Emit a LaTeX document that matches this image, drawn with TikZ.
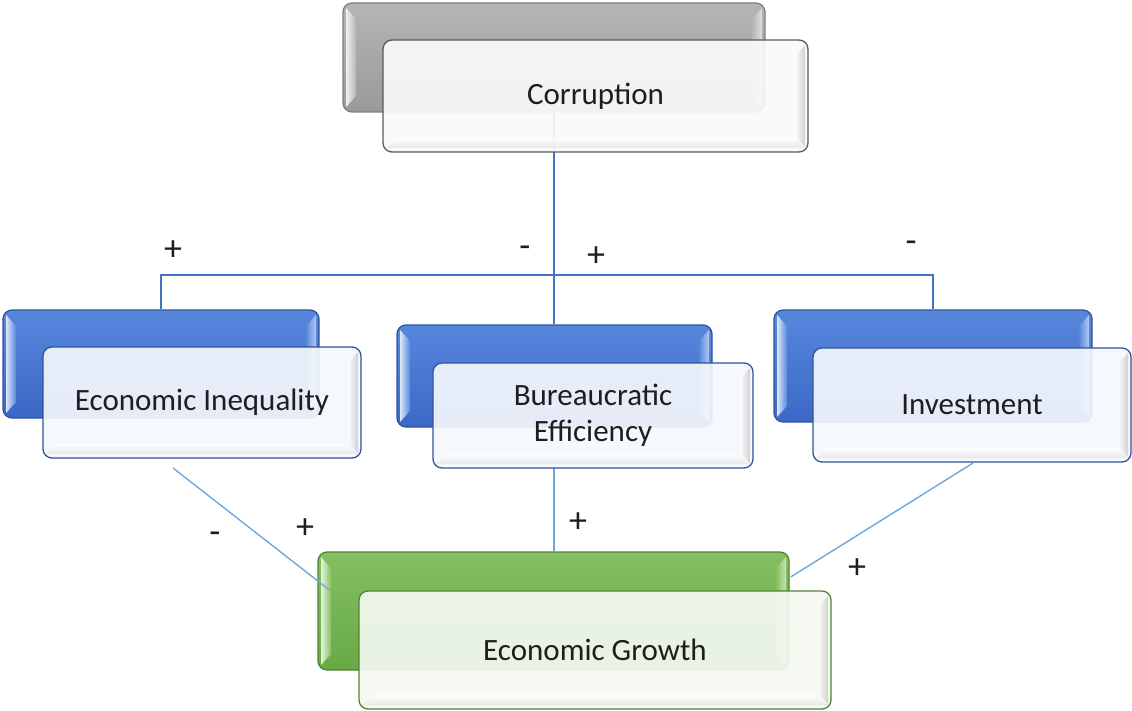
\documentclass[tikz,border=0pt]{standalone}
\usepackage{fontspec}
\setmainfont{Carlito}
\usetikzlibrary{calc}

\definecolor{grayTop}{HTML}{B5B5B5}
\definecolor{grayBot}{HTML}{9A9A9A}
\definecolor{grayLine}{HTML}{7F7F7F}
\definecolor{blueTop}{HTML}{5787DD}
\definecolor{blueBot}{HTML}{3C68C5}
\definecolor{blueLine}{HTML}{2F5597}
\definecolor{greenTop}{HTML}{84C060}
\definecolor{greenBot}{HTML}{68A946}
\definecolor{greenLine}{HTML}{548235}
\definecolor{grayFace}{HTML}{FAFAFA}
\definecolor{blueFace}{HTML}{F4F7FC}
\definecolor{greenFace}{HTML}{F4F9F1}
\definecolor{frameGray}{HTML}{595959}
\definecolor{linkDark}{HTML}{4472C4}
\definecolor{linkLight}{HTML}{6FA8DC}
\definecolor{ink}{HTML}{1E1E1E}

\tikzset{
  box/.style={rounded corners=9pt, inner sep=0pt, line width=1.3pt},
  % raised coloured tile with bevel highlights on the sides
  backbox/.style n args={5}{box, draw=#3, top color=#1, bottom color=#2,
    minimum width=#4, minimum height=#5,
    path picture={
      \coordinate (pnw) at (path picture bounding box.north west);
      \coordinate (pse) at (path picture bounding box.south east);
      \coordinate (psw) at (path picture bounding box.south west);
      \coordinate (pne) at (path picture bounding box.north east);
      \shade[left color=white!80!#1, right color=#1, rounded corners=0pt]
        ($(pnw)+(3pt,-5pt)$) -- ($(pnw)+(13pt,-16pt)$) --
        ($(psw)+(13pt,16pt)$) -- ($(psw)+(3pt,5pt)$) -- cycle;
      \shade[left color=#1, right color=white!55!#1, rounded corners=0pt]
        ($(pne)+(-3pt,-5pt)$) -- ($(pne)+(-13pt,-16pt)$) --
        ($(pse)+(-13pt,16pt)$) -- ($(pse)+(-3pt,5pt)$) -- cycle;
    }},
  % translucent label tile in front
  frontbox/.style n args={4}{box, draw=#2, fill=#1, fill opacity=0.92,
    text opacity=1, text=ink, align=center,
    font=\fontsize{31}{36}\selectfont,
    minimum width=#3, minimum height=#4,
    path picture={
      \coordinate (qse) at (path picture bounding box.south east);
      \coordinate (qne) at (path picture bounding box.north east);
      \coordinate (qsw) at (path picture bounding box.south west);
      \shade[left color=white, right color=black!22, rounded corners=0pt, fill opacity=0.8]
        ($(qne)+(-3pt,-5pt)$) -- ($(qne)+(-13pt,-16pt)$) --
        ($(qse)+(-13pt,16pt)$) -- ($(qse)+(-3pt,5pt)$) -- cycle;
      \shade[top color=white, bottom color=black!10, rounded corners=0pt, fill opacity=0.8]
        ($(qsw)+(13pt,14pt)$) -- ($(qse)+(-13pt,14pt)$) --
        ($(qse)+(-3pt,4pt)$) -- ($(qsw)+(3pt,4pt)$) -- cycle;
    }},
  topline/.style={draw=linkDark, line width=1.9pt},
  botline/.style={draw=linkLight, line width=1.4pt},
  sign/.style={text=ink, inner sep=0pt, font=\fontsize{36}{36}\selectfont}
}

\begin{document}
\begin{tikzpicture}[x=1pt, y=-1pt]
\useasboundingbox (0,0) rectangle (1132,711);

% back tiles
\node[backbox={grayTop}{grayBot}{grayLine}{422pt}{109pt}] (corrB) at (554,57.5) {};
\node[backbox={blueTop}{blueBot}{blueLine}{316pt}{108pt}] (eiB) at (161,364) {};
\node[backbox={blueTop}{blueBot}{blueLine}{315pt}{102pt}] (beB) at (554.5,376) {};
\node[backbox={blueTop}{blueBot}{blueLine}{318pt}{112pt}] (invB) at (933,366) {};
\node[backbox={greenTop}{greenBot}{greenLine}{471pt}{118pt}] (egB) at (553.5,611) {};

% connectors from Corruption to the three middle factors
\draw[topline] (corrB.south) -- (corrB.south |- beB.north);
\draw[topline] (eiB.north) -- ++(0,-34) -| (invB.north);

% connectors from the middle factors to Economic Growth
\coordinate (eiTail) at (173,468);
\draw[botline] (eiTail) -- ($(egB.west)+(12,-21)$);
\draw[botline] (corrB.south |- 0,468) -- (corrB.south |- egB.north);
\draw[botline] (973,463) -- ($(egB.east)+(1,-34)$);

% front tiles with labels
\node[frontbox={grayFace}{frameGray}{425pt}{112pt}] (corr) at (595.5,96) {Corruption};
\node[frontbox={blueFace}{blueLine}{318pt}{111pt}] (ei) at (202,402.5) {Economic Inequality};
\node[frontbox={blueFace}{blueLine}{320pt}{105pt}] (be) at (593,415.5) {Bureaucratic\\Efficiency};
\node[frontbox={blueFace}{blueLine}{318pt}{114pt}] (inv) at (972,405) {Investment};
\node[frontbox={greenFace}{greenLine}{472pt}{118pt}] (eg) at (595,650) {Economic Growth};

% signs of the effects
\node[sign] (s1) at (173,251) {+};
\node[sign] (s2) at (525,252) {-};
\node[sign] (s3) at (596,257) {+};
\node[sign] (s4) at (911,247) {-};
\node[sign] (s5) at (215,538) {-};
\node[sign] (s6) at (305,529) {+};
\node[sign] (s7) at (578,523) {+};
\node[sign] (s8) at (857,569) {+};
\end{tikzpicture}
\end{document}
